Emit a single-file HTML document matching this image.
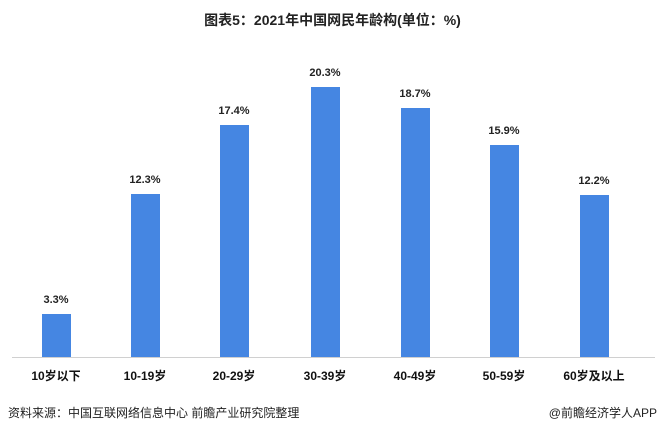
<!DOCTYPE html>
<html><head><meta charset="utf-8"><style>
body{margin:0;width:665px;height:434px;background:#fff;position:relative;overflow:hidden;font-family:"Liberation Sans","Noto Sans CJK SC",sans-serif;}
.t{position:absolute;white-space:nowrap;}
.bar{position:absolute;background:#4586e2;width:29px;}
.v{position:absolute;width:80px;text-align:center;font-size:11px;font-weight:bold;color:#222;}
.c{position:absolute;width:90px;text-align:center;font-size:12px;font-weight:bold;color:#111;top:367px;}
</style></head><body>
<div class="t" style="left:0;width:665px;text-align:center;top:10px;font-size:14px;font-weight:bold;color:#222;">图表5：2021年中国网民年龄构(单位：%)</div>
<div style="position:absolute;left:12px;top:357px;width:643px;height:1px;background:#d0d0d0"></div>
<div class="bar" style="left:42px;top:314px;height:43px"></div>
<div class="bar" style="left:131px;top:194px;height:163px"></div>
<div class="bar" style="left:220px;top:125px;height:232px"></div>
<div class="bar" style="left:311px;top:87px;height:270px"></div>
<div class="bar" style="left:401px;top:108px;height:249px"></div>
<div class="bar" style="left:490px;top:145px;height:212px"></div>
<div class="bar" style="left:580px;top:195px;height:162px"></div>
<div class="v" style="left:16px;top:294px">3.3%</div>
<div class="v" style="left:105px;top:174px">12.3%</div>
<div class="v" style="left:194px;top:105px">17.4%</div>
<div class="v" style="left:285px;top:67px">20.3%</div>
<div class="v" style="left:375px;top:88px">18.7%</div>
<div class="v" style="left:464px;top:125px">15.9%</div>
<div class="v" style="left:554px;top:175px">12.2%</div>
<div class="c" style="left:11px">10岁以下</div>
<div class="c" style="left:100px">10-19岁</div>
<div class="c" style="left:189px">20-29岁</div>
<div class="c" style="left:280px">30-39岁</div>
<div class="c" style="left:370px">40-49岁</div>
<div class="c" style="left:459px">50-59岁</div>
<div class="c" style="left:549px">60岁及以上</div>
<div class="t" style="left:8px;top:404px;font-size:12px;color:#222;">资料来源：中国互联网络信息中心 前瞻产业研究院整理</div>
<div class="t" style="right:8px;top:404px;font-size:12px;color:#222;">@前瞻经济学人APP</div>
</body></html>
